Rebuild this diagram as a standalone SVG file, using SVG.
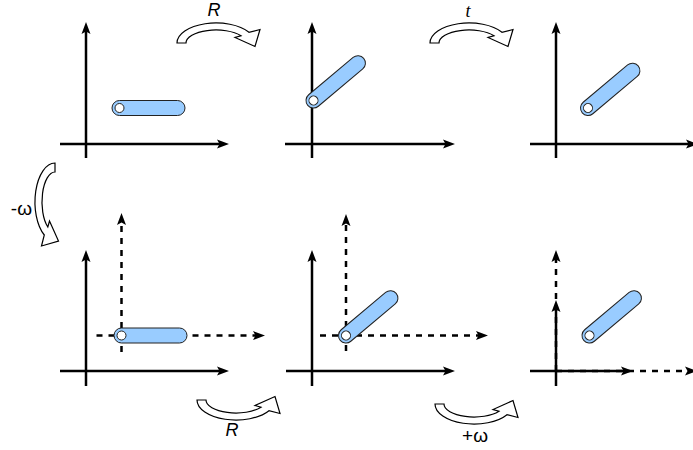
<svg xmlns="http://www.w3.org/2000/svg" width="693" height="450" viewBox="0 0 693 450">
<style>
.ax{fill:none;stroke:#000;stroke-width:2.5;marker-end:url(#ah)}
.dash{fill:none;stroke:#000;stroke-width:2.5;stroke-dasharray:6 6;marker-end:url(#ah)}
.bar{fill:#99CCFF;stroke:#222;stroke-width:1}
.pin{fill:#fff;stroke:#222;stroke-width:1}
.carrow{fill:#fff;stroke:#000;stroke-width:1.2;stroke-linejoin:miter}
.lbl{font-family:"Liberation Sans",Arial,sans-serif;font-size:18px;fill:#000}
.om{font-size:19px}
.it{font-style:italic}
.serif{font-family:"Liberation Serif","Times New Roman",serif}
</style>
<defs>
<marker id="ah" markerUnits="userSpaceOnUse" markerWidth="12" markerHeight="10" viewBox="0 0 12 10" refX="6" refY="5" orient="auto">
<path d="M0,0.5 L12,5 L0,9.5 L2.5,5 Z" fill="#000"/>
</marker>
<g id="bar">
<rect class="bar" x="-7.5" y="-7.5" width="73" height="15" rx="7.5"/>
<circle class="pin" r="4.5"/>
</g>
<path id="curve" class="carrow" d="M0,25 A39,20 0 0 1 72,14.3 L83,11.5 L78,28.5 L58,19.5 L64,17.8 A30,13 0 0 0 9,25 Z"/>
</defs>

<g id="panel1">
<path class="ax" d="M86,158 V28"/>
<path class="ax" d="M60,144 H223"/>
<use href="#bar" transform="translate(119.5,108)"/>
</g>

<g id="panel2">
<path class="ax" d="M312,158 V28"/>
<path class="ax" d="M285,144 H449"/>
<use href="#bar" transform="translate(313.5,100.5) rotate(-40)"/>
</g>

<g id="panel3">
<path class="ax" d="M556,158 V28"/>
<path class="ax" d="M530,144 H692"/>
<use href="#bar" transform="translate(588,108) rotate(-40)"/>
</g>

<g id="panel4">
<path class="ax" d="M86,386 V256"/>
<path class="ax" d="M60,371 H223"/>
<path class="dash" d="M121.5,352 V219"/>
<path class="dash" d="M96.5,335.5 H259"/>
<use href="#bar" transform="translate(121.5,335.5)"/>
</g>

<g id="panel5">
<path class="ax" d="M312,386 V256"/>
<path class="ax" d="M286,371 H449"/>
<path class="dash" d="M346,351 V220"/>
<path class="dash" d="M320,335.5 H482"/>
<use href="#bar" transform="translate(346,335.5) rotate(-40)"/>
</g>

<g id="panel6">
<path class="dash" d="M556,371 V256"/>
<path class="dash" d="M556,371 H691"/>
<path class="ax" d="M556,386 V306"/>
<path class="ax" d="M530,371 H627"/>
<use href="#bar" transform="translate(589.5,335.5) rotate(-40)"/>
</g>

<g id="connectors">
<g id="arrow-R-top">
<use href="#curve" transform="translate(177,18)"/>
<text class="lbl it" x="214" y="16" text-anchor="middle">R</text>
</g>
<g id="arrow-t">
<use href="#curve" transform="translate(430,18)"/>
<text class="lbl it serif" x="468" y="17" text-anchor="middle">t</text>
</g>
<g id="arrow-minus-omega">
<use href="#curve" transform="matrix(0,1,1,0,30,163)"/>
<text class="lbl om" x="32" y="215" text-anchor="end">-ω</text>
</g>
<g id="arrow-R-bottom">
<use href="#curve" transform="matrix(1,0,0,-1,197,425)"/>
<text class="lbl it" x="232" y="436" text-anchor="middle">R</text>
</g>
<g id="arrow-plus-omega">
<use href="#curve" transform="matrix(1,0,0,-1,435,429)"/>
<text class="lbl om" x="475" y="442" text-anchor="middle">+ω</text>
</g>
</g>
</svg>
